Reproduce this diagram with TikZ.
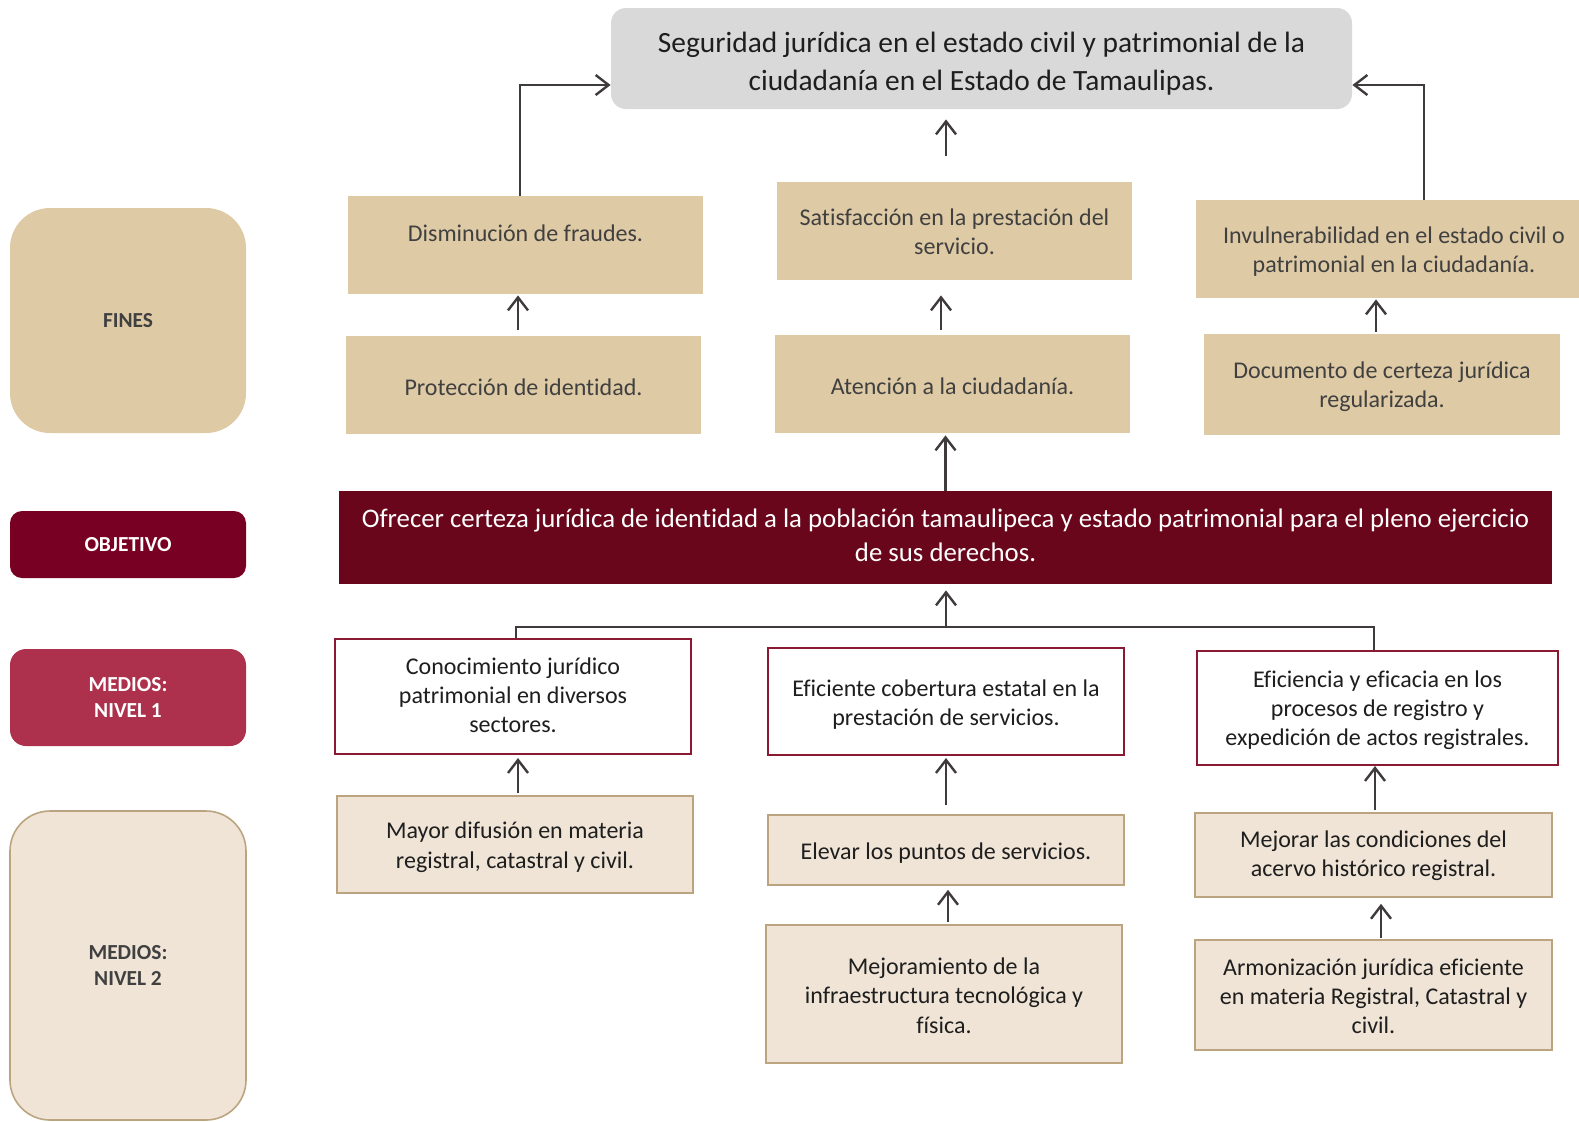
\documentclass[tikz,border=0pt]{standalone}
\usepackage{fontspec}
\setmainfont{Carlito}[Ligatures=NoCommon]
\usetikzlibrary{arrows.meta}
\definecolor{beige}{HTML}{DECAA4}
\definecolor{lbeige}{HTML}{EFE4D6}
\definecolor{lbeigeline}{HTML}{BBA47F}
\definecolor{titlegray}{HTML}{D9D9D9}
\definecolor{objbar}{HTML}{69061B}
\definecolor{objlab}{HTML}{780022}
\definecolor{medlab}{HTML}{AD314C}
\definecolor{maroonline}{HTML}{8A1A31}
\definecolor{txtgray}{HTML}{404040}
\definecolor{txtdark}{HTML}{1E1E1E}
\definecolor{arrgray}{HTML}{3F3A3C}
\newcommand{\shiftlines}[2]{\raisebox{#1}[\height][\depth]{\begin{tabular}{@{}c@{}}#2\end{tabular}}}
\tikzset{
  body/.style={inner sep=0pt, align=center, font=\fontsize{12}{14.65}\selectfont},
  finbox/.style={body, fill=beige, text=txtgray},
  nivuno/.style={body, fill=white, draw=maroonline, line width=1pt, text=txtdark},
  nivdos/.style={body, fill=lbeige, draw=lbeigeline, line width=0.8pt, text=txtdark},
  sidelab/.style={inner sep=0pt, align=center, font=\fontsize{10.7}{13.1}\selectfont\bfseries, minimum width=118pt},
  conn/.style={draw=arrgray, line width=1.2pt},
  arr/.style={conn, -{Straight Barb[length=6.5pt,width=10pt,line width=1.2pt]}},
}
\begin{document}
\begin{tikzpicture}[x=0.5pt,y=-0.5pt]
\useasboundingbox (0,0) rectangle (1579,1121);
\clip (0,0) rectangle (1579,1121);
% left labels
\node[sidelab, fill=beige, text=txtgray, rounded corners=20pt, minimum height=112.5pt] (lfines) at (128,320.5) {FINES};
\node[sidelab, fill=objlab, text=white, rounded corners=6pt, minimum height=33.5pt] (lobj) at (128,544.5) {OBJETIVO};
\node[sidelab, fill=medlab, text=white, rounded corners=8pt, minimum height=48.5pt] (lm1) at (128,697.5) {MEDIOS:\\NIVEL 1};
\node[sidelab, fill=lbeige, draw=lbeigeline, line width=0.8pt, text=txtgray, rounded corners=20pt, minimum height=154.5pt] (lm2) at (128,965.5) {MEDIOS:\\NIVEL 2};
% title
\node[inner sep=0pt, align=center, fill=titlegray, rounded corners=7.5pt, minimum width=370.5pt, minimum height=50.5pt, text=txtdark, font=\fontsize{14.7}{19.15}\selectfont] (title) at (981.5,58.5) {\shiftlines{-2.5pt}{Seguridad jurídica en el estado civil y patrimonial de la\\ciudadanía en el Estado de Tamaulipas.}};
% fines row 1
\node[finbox, minimum width=177.5pt, minimum height=49pt] (dism) at (525.5,245) {\shiftlines{4.5pt}{Disminución de fraudes.}};
\node[finbox, minimum width=177.5pt, minimum height=49pt] (satis) at (954.5,231) {\shiftlines{-1.5pt}{Satisfacción en la prestación del\\servicio.}};
\node[finbox, minimum width=198pt, minimum height=49pt] (invul) at (1394,249) {\shiftlines{-1.5pt}{Invulnerabilidad en el estado civil o\\patrimonial en la ciudadanía.}};
% fines row 2
\node[finbox, minimum width=177.5pt, minimum height=49pt] (prot) at (523.5,385) {\shiftlines{-2.5pt}{Protección de identidad.}};
\node[finbox, minimum width=177.5pt, minimum height=49pt] (aten) at (952.5,384) {\shiftlines{-2.5pt}{Atención a la ciudadanía.}};
\node[finbox, minimum width=178pt, minimum height=50.5pt] (docu) at (1382,384.5) {\shiftlines{-1.25pt}{Documento de certeza jurídica\\regularizada.}};
% objetivo
\node[inner sep=0pt, align=center, fill=objbar, text=white, minimum width=606.5pt, minimum height=46.5pt, font=\fontsize{13.4}{17.1}\selectfont] (obj) at (945.5,537.5) {\shiftlines{0pt}{Ofrecer certeza jurídica de identidad a la población tamaulipeca y estado patrimonial para el pleno ejercicio\\de sus derechos.}};
% medios nivel 1
\node[nivuno, minimum width=178pt, minimum height=57.5pt] (cono) at (513,696.5) {\shiftlines{-0.5pt}{Conocimiento jurídico\\patrimonial en diversos\\sectores.}};
\node[nivuno, minimum width=178pt, minimum height=53.5pt] (cobe) at (946,701.5) {\shiftlines{-1.75pt}{Eficiente cobertura estatal en la\\prestación de servicios.}};
\node[nivuno, minimum width=180.5pt, minimum height=57pt] (efic) at (1377.5,708) {\shiftlines{-1.4pt}{Eficiencia y eficacia en los\\procesos de registro y\\expedición de actos registrales.}};
% medios nivel 2
\node[nivdos, minimum width=178pt, minimum height=48.5pt] (mayor) at (515,844.5) {\shiftlines{-1.5pt}{Mayor difusión en materia\\registral, catastral y civil.}};
\node[nivdos, minimum width=178pt, minimum height=35pt] (elev) at (946,850) {\shiftlines{-2pt}{Elevar los puntos de servicios.}};
\node[nivdos, minimum width=178.5pt, minimum height=42pt] (mejo) at (1373.5,855) {\shiftlines{-0.5pt}{Mejorar las condiciones del\\acervo histórico registral.}};
\node[nivdos, minimum width=178pt, minimum height=69pt] (infra) at (944,994) {\shiftlines{-2pt}{Mejoramiento de la\\infraestructura tecnológica y\\física.}};
\node[nivdos, minimum width=178.5pt, minimum height=55pt] (armo) at (1373.5,995) {\shiftlines{-1.75pt}{Armonización jurídica eficiente\\en materia Registral, Catastral y\\civil.}};
% connectors to title
\draw[arr] ([xshift=-2.75pt]dism.north) |- ([yshift=-13.25pt]title.west);
\draw[arr] ([xshift=15pt]invul.north) |- ([yshift=-13.25pt]title.east);
\draw[arr, shorten <=13pt, shorten >=5pt] ([xshift=-4.25pt]satis.north) -- ([xshift=-4.25pt]satis.north |- title.south);
% fines row 2 -> row 1
\draw[arr, shorten <=3pt, shorten >=0.5pt] ([xshift=-2.75pt]prot.north) -- ([xshift=-2.75pt]prot.north |- dism.south);
\draw[arr, shorten <=2.5pt, shorten >=7.5pt] ([xshift=-5.75pt]aten.north) -- ([xshift=-5.75pt]aten.north |- satis.south);
\draw[arr, shorten <=1pt, shorten >=0.5pt] ([xshift=-3pt]docu.north) -- ([xshift=-3pt]docu.north |- invul.south);
% objetivo -> atencion
\draw[arr, shorten >=1pt] (obj.north) -- (obj.north |- aten.south);
% tree
\coordinate (junc) at (946,627);
\draw[conn] ([xshift=1.5pt]cono.north) |- (junc) -| ([xshift=-1.75pt]efic.north);
\draw[arr, shorten >=3pt] (junc) -- (junc |- obj.south);
% nivel 2 -> nivel 1
\draw[arr, shorten <=1pt, shorten >=1.5pt] ([xshift=1.5pt]mayor.north) -- ([xshift=1.5pt]mayor.north |- cono.south);
\draw[arr, shorten <=4.5pt, shorten >=1pt] (elev.north) -- (elev.north |- cobe.south);
\draw[arr, shorten <=1pt] ([xshift=0.75pt]mejo.north) -- ([xshift=0.75pt]mejo.north |- efic.south);
\draw[arr, shorten <=1pt, shorten >=2pt] ([xshift=2pt]infra.north) -- ([xshift=2pt]infra.north |- elev.south);
\draw[arr, shorten <=0.5pt, shorten >=3pt] ([xshift=3.75pt]armo.north) -- ([xshift=3.75pt]armo.north |- mejo.south);
\end{tikzpicture}
\end{document}
